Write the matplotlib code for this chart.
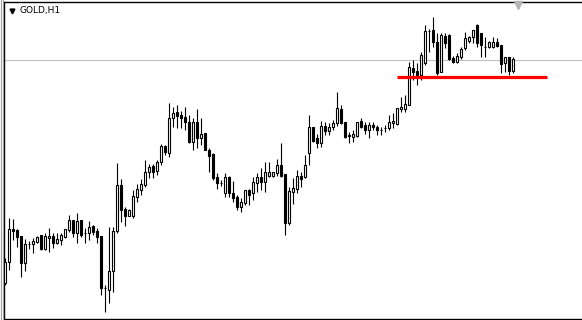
import matplotlib
matplotlib.use('agg')
import matplotlib.pyplot as plt
from matplotlib.lines import Line2D
import numpy as np

# GOLD H1 candles
opens = [1037, 1058, 1091, 1090, 1084, 1057, 1076, 1076, 1078, 1085,
         1071, 1082, 1084, 1077, 1080, 1083, 1090, 1100, 1087, 1100,
         1087, 1087, 1094, 1089, 1084, 1032, 1030, 1049, 1089, 1135,
         1111, 1104, 1104, 1123, 1130, 1135, 1148, 1154, 1149, 1158,
         1174, 1167, 1202, 1208, 1205, 1203, 1198, 1178, 1198, 1182,
         1187, 1170, 1166, 1143, 1137, 1127, 1143, 1127, 1123, 1113,
         1117, 1130, 1127, 1137, 1143, 1138, 1144, 1144, 1147, 1155,
         1146, 1097, 1128, 1131, 1144, 1143, 1167, 1193, 1182, 1177,
         1194, 1189, 1193, 1197, 1211, 1198, 1185, 1183, 1184, 1199,
         1195, 1190, 1195, 1193, 1190, 1192, 1192, 1197, 1196, 1211,
         1211, 1215, 1252, 1249, 1245, 1257, 1289, 1290, 1278, 1248,
         1284, 1285, 1262, 1258, 1263, 1272, 1279, 1283, 1295, 1287,
         1273, 1273, 1273, 1278, 1275, 1257, 1263, 1249]
highs = [1062, 1102, 1101, 1091, 1084, 1081, 1079, 1082, 1084, 1085,
         1087, 1092, 1087, 1087, 1087, 1091, 1105, 1100, 1107, 1100,
         1092, 1099, 1095, 1092, 1084, 1035, 1093, 1093, 1157, 1141,
         1113, 1111, 1130, 1136, 1141, 1160, 1156, 1156, 1160, 1176,
         1175, 1217, 1213, 1215, 1209, 1213, 1205, 1202, 1211, 1202,
         1187, 1172, 1167, 1147, 1140, 1147, 1144, 1139, 1125, 1122,
         1130, 1131, 1143, 1147, 1152, 1158, 1158, 1148, 1161, 1177,
         1146, 1133, 1142, 1150, 1148, 1165, 1205, 1193, 1186, 1199,
         1198, 1197, 1200, 1228, 1215, 1198, 1188, 1190, 1198, 1202,
         1198, 1198, 1198, 1195, 1193, 1195, 1205, 1207, 1212, 1223,
         1225, 1258, 1260, 1257, 1268, 1295, 1291, 1303, 1287, 1287,
         1287, 1286, 1264, 1267, 1273, 1288, 1284, 1290, 1296, 1287,
         1283, 1279, 1283, 1282, 1275, 1263, 1263, 1263]
lows = [1035, 1050, 1080, 1073, 1043, 1049, 1071, 1067, 1077, 1070,
        1070, 1068, 1072, 1076, 1075, 1082, 1088, 1083, 1077, 1083,
        1077, 1080, 1085, 1077, 1025, 1008, 1017, 1028, 1087, 1098,
        1094, 1104, 1102, 1118, 1125, 1133, 1142, 1142, 1145, 1155,
        1165, 1163, 1193, 1192, 1192, 1190, 1177, 1170, 1172, 1175,
        1170, 1148, 1140, 1131, 1134, 1123, 1123, 1118, 1110, 1108,
        1115, 1115, 1120, 1128, 1130, 1128, 1143, 1143, 1144, 1143,
        1085, 1095, 1116, 1127, 1133, 1142, 1155, 1178, 1172, 1173,
        1185, 1185, 1190, 1194, 1196, 1182, 1177, 1178, 1183, 1192,
        1186, 1182, 1190, 1185, 1185, 1188, 1190, 1192, 1195, 1208,
        1208, 1215, 1240, 1235, 1240, 1255, 1268, 1273, 1245, 1248,
        1272, 1260, 1257, 1257, 1261, 1270, 1277, 1277, 1273, 1263,
        1263, 1272, 1272, 1273, 1247, 1248, 1245, 1247]
closes = [1058, 1091, 1089, 1083, 1057, 1076, 1076, 1079, 1083, 1071,
          1084, 1084, 1077, 1081, 1085, 1091, 1100, 1087, 1099, 1085,
          1087, 1093, 1088, 1083, 1032, 1032, 1049, 1089, 1135, 1110,
          1104, 1110, 1124, 1131, 1136, 1148, 1153, 1148, 1158, 1174,
          1168, 1202, 1207, 1204, 1202, 1198, 1178, 1198, 1182, 1186,
          1170, 1164, 1142, 1137, 1137, 1143, 1127, 1122, 1113, 1118,
          1130, 1125, 1138, 1143, 1138, 1148, 1148, 1148, 1155, 1144,
          1097, 1129, 1132, 1144, 1141, 1155, 1193, 1179, 1177, 1194,
          1189, 1193, 1197, 1212, 1197, 1183, 1184, 1186, 1198, 1193,
          1190, 1195, 1193, 1190, 1190, 1192, 1198, 1199, 1212, 1213,
          1216, 1253, 1248, 1245, 1265, 1289, 1289, 1278, 1247, 1285,
          1277, 1261, 1258, 1264, 1271, 1282, 1283, 1290, 1277, 1275,
          1273, 1278, 1278, 1274, 1256, 1263, 1249, 1261]

bid_level = 1260.5
red_level = 1243
symbol_label = "GOLD,H1"

opens = np.array(opens, dtype=float)
highs = np.array(highs, dtype=float)
lows = np.array(lows, dtype=float)
closes = np.array(closes, dtype=float)
x = np.arange(len(opens))

fig = plt.figure(figsize=(5.82, 3.2), dpi=100)
fig.patch.set_facecolor('white')
# axes run past the right edge, as in the terminal window (no right border)
ax = fig.add_axes([4 / 582, 1.5 / 320, 590 / 582, 316.5 / 320])
ax.set_facecolor('white')

# bid line behind everything
ax.axhline(bid_level, color='#c0c0c0', lw=0.8, zorder=1)

# wicks
ax.vlines(x, lows, highs, color='black', lw=0.8, zorder=2)

# bodies: white for up, black for down
bottoms = np.minimum(opens, closes)
heights = np.abs(closes - opens)
faces = ['white' if c >= o else 'black' for o, c in zip(opens, closes)]
ax.bar(x, heights, bottom=bottoms, width=0.5, color=faces,
       edgecolor='black', linewidth=0.8, zorder=3)

# red horizontal level
ax.hlines(red_level, 97.9, 135.4, color='#ff0000', lw=2.3, zorder=4)

ax.set_xlim(-0.35, 147.15)
ax.set_ylim(1001.5, 1318)
ax.set_xticks([])
ax.set_yticks([])
for s in ['left', 'top', 'bottom']:
    ax.spines[s].set_color('black')
    ax.spines[s].set_linewidth(1.0)
ax.spines['right'].set_visible(False)

# window frame on the left
for px, col in [(0.5, '#a0a0a0'), (2.5, '#a0a0a0')]:
    fig.add_artist(Line2D([px / 582, px / 582], [0, 1], color=col, lw=0.8,
                          transform=fig.transFigure))

# chart caption
fig.add_artist(Line2D([11.5 / 582], [1 - 10.5 / 320], marker='v', color='black',
                      markersize=3.5, linestyle='none', transform=fig.transFigure))
fig.text(20 / 582, 1 - 10.5 / 320, symbol_label, fontsize=6.5,
         family='DejaVu Sans', color='black', va='center', ha='left')

# shift marker at the top
fig.add_artist(Line2D([518 / 582], [1 - 4.5 / 320], marker='v', color='#b4b4b4',
                      markersize=6, linestyle='none', transform=fig.transFigure))

plt.savefig('out.png', dpi=100)
